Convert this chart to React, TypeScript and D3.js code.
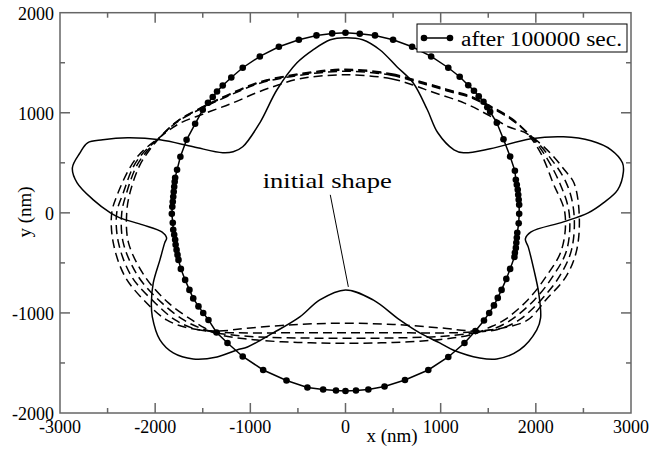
import React, { useEffect, useRef } from "react";
import * as d3 from "d3";

// axis ticks
const xTicks = [-3000, -2000, -1000, 0, 1000, 2000, 3000];
const yTicks = [-2000, -1000, 0, 1000, 2000];
const xMinor = [-2500, -1500, -500, 500, 1500, 2500];
const yMinor = [-1500, -500, 500, 1500];

const legendLabel = "after 100000 sec.";
const noteLabel = "initial shape";
// annotation: text anchor and pointer (data units)
const noteText: [number, number] = [-870, 250];
const notePointer: [number, number][] = [[-160, 180], [30, -740]];

// initial five-lobed shape (nm)
const initialShape: [number, number][] = [
  [0, 1750], [180, 1730], [360, 1630], [540, 1460], [710, 1300], [860, 1030],
  [970, 800], [1140, 630], [1240, 600], [1520, 640], [1950, 740], [2290, 760],
  [2580, 720], [2790, 630], [2910, 500], [2920, 410], [2860, 230], [2710, 100],
  [2550, 0], [2290, -90], [1950, -190], [1890, -260], [1920, -340], [1980, -570],
  [2030, -800], [2050, -1050], [2010, -1170], [1830, -1370], [1590, -1460],
  [1410, -1450], [1130, -1370], [990, -1300], [780, -1200], [570, -1070],
  [290, -870], [0, -770], [-270, -870], [-480, -1040], [-760, -1200],
  [-1030, -1340], [-1140, -1370], [-1350, -1440], [-1600, -1460], [-1810, -1400],
  [-1950, -1270], [-2030, -1040], [-2040, -900], [-2020, -700], [-1950, -470],
  [-1900, -300], [-1880, -250], [-1930, -190], [-2130, -120], [-2370, -50],
  [-2470, 0], [-2650, 130], [-2820, 300], [-2870, 450], [-2790, 600],
  [-2710, 700], [-2550, 730], [-2290, 750], [-1950, 730], [-1600, 660],
  [-1290, 600], [-1180, 610], [-1080, 660], [-900, 900], [-720, 1230],
  [-510, 1500], [-340, 1630], [-160, 1730],
];

// intermediate shapes (dashed)
const dashedA: [number, number][] = [
  [0, 1380], [480, 1340], [700, 1280], [920, 1205], [1250, 1097], [1495, 980],
  [1705, 863], [1910, 790], [2150, 600], [2300, 430], [2400, 300], [2455, 0],
  [2430, -370], [2315, -640], [2105, -870], [1915, -1070], [1650, -1150],
  [1350, -1180], [1000, -1150], [500, -1115], [0, -1103], [-500, -1115],
  [-1000, -1150], [-1350, -1180], [-1650, -1150], [-1880, -1070], [-2090, -900],
  [-2315, -640], [-2440, -300], [-2456, 0], [-2390, 200], [-2260, 460],
  [-2150, 600], [-1960, 750], [-1750, 890], [-1460, 1000], [-1180, 1100],
  [-935, 1200], [-700, 1280], [-480, 1340],
];
const dashedB: [number, number][] = [
  [0, 1415], [480, 1375], [850, 1280], [1100, 1210], [1320, 1150], [1530, 1050],
  [1740, 935], [1920, 795], [2110, 600], [2320, 300], [2400, 0], [2375, -370],
  [2245, -640], [2055, -870], [1825, -1070], [1600, -1165], [1350, -1190],
  [1000, -1200], [500, -1198], [0, -1197], [-500, -1198], [-1000, -1200],
  [-1350, -1190], [-1580, -1160], [-1790, -1070], [-2000, -900], [-2245, -640],
  [-2385, -300], [-2404, 0], [-2335, 200], [-2230, 460], [-2125, 600],
  [-1950, 755], [-1775, 905], [-1530, 1035], [-1250, 1160], [-900, 1295],
  [-480, 1375],
];
const dashedC: [number, number][] = [
  [0, 1425], [480, 1383], [850, 1288], [1100, 1218], [1320, 1157], [1530, 1057],
  [1740, 940], [1910, 800], [2080, 600], [2250, 300], [2350, 0], [2325, -370],
  [2175, -640], [1985, -870], [1740, -1070], [1550, -1160], [1350, -1200],
  [1000, -1235], [500, -1250], [0, -1253], [-500, -1250], [-1000, -1235],
  [-1350, -1200], [-1530, -1150], [-1700, -1070], [-1930, -900], [-2175, -640],
  [-2335, -300], [-2351, 0], [-2300, 200], [-2200, 460], [-2100, 600],
  [-1945, 760], [-1775, 910], [-1530, 1040], [-1250, 1167], [-900, 1302],
  [-480, 1383],
];
const dashedD: [number, number][] = [
  [0, 1435], [480, 1390], [850, 1295], [1100, 1225], [1320, 1164], [1530, 1064],
  [1745, 945], [1900, 805], [2050, 600], [2180, 300], [2305, 0], [2270, -370],
  [2105, -640], [1915, -870], [1670, -1070], [1500, -1150], [1350, -1210],
  [1000, -1265], [500, -1295], [0, -1303], [-500, -1295], [-1000, -1265],
  [-1350, -1210], [-1480, -1150], [-1615, -1070], [-1860, -900], [-2105, -640],
  [-2280, -300], [-2299, 0], [-2265, 200], [-2170, 460], [-2080, 600],
  [-1940, 765], [-1770, 915], [-1530, 1045], [-1250, 1174], [-900, 1309],
  [-480, 1390],
];

// shape after 100000 sec (mesh nodes)
const finalShape: [number, number][] = [
  [0, 1800], [150, 1790], [310, 1773], [500, 1730], [700, 1660], [900, 1563],
  [1080, 1450], [1200, 1360], [1290, 1275], [1350, 1220], [1400, 1165],
  [1450, 1110], [1490, 1055], [1520, 1010], [1590, 900], [1660, 735],
  [1730, 563], [1780, 420], [1790, 330], [1800, 280], [1810, 230], [1815, 180],
  [1820, 130], [1825, 80], [1825, -10], [1820, -105], [1805, -200], [1800, -250],
  [1795, -300], [1790, -350], [1780, -400], [1775, -440], [1730, -560],
  [1690, -660], [1640, -770], [1600, -850], [1560, -925], [1510, -1000],
  [1455, -1075], [1365, -1180], [1250, -1300], [1080, -1440], [870, -1570],
  [625, -1670], [410, -1735], [240, -1765], [110, -1775], [0, -1780],
  [-100, -1775], [-235, -1765], [-400, -1745], [-620, -1675], [-865, -1570],
  [-1080, -1435], [-1240, -1300], [-1355, -1195], [-1440, -1070],
  [-1495, -1000], [-1545, -935], [-1600, -855], [-1640, -770], [-1685, -670],
  [-1730, -560], [-1755, -470], [-1765, -420], [-1775, -370], [-1785, -320],
  [-1790, -270], [-1800, -220], [-1810, -170], [-1815, -100], [-1825, -10],
  [-1820, 60], [-1815, 110], [-1810, 160], [-1805, 210], [-1800, 260],
  [-1795, 310], [-1790, 350], [-1770, 430], [-1735, 560], [-1670, 730],
  [-1580, 890], [-1500, 1030], [-1445, 1100], [-1395, 1157], [-1350, 1213],
  [-1290, 1273], [-1200, 1353], [-1080, 1450], [-900, 1563], [-700, 1660],
  [-490, 1730], [-305, 1773], [-140, 1793],
];

export default function App() {
  const ref = useRef<SVGSVGElement>(null);
  const W = 667;
  const H = 449;
  const plot = { left: 60, right: 631, top: 12.7, bottom: 413 };
  const font = "'Liberation Serif', Tinos, 'Nimbus Roman', 'Times New Roman', Times, serif";

  useEffect(() => {
    const svg = d3.select(ref.current);
    svg.selectAll("*").remove();

    const x = d3.scaleLinear().domain([-3000, 3000]).range([plot.left, plot.right]);
    const y = d3.scaleLinear().domain([-2000, 2000]).range([plot.bottom, plot.top]);

    const axisColor = "#666";

    // ticks on all four sides, pointing inward
    const tickG = svg.append("g").attr("stroke", axisColor).attr("stroke-width", 1.5);
    const addX = (vals: number[], len: number) => {
      vals.forEach((v) => {
        tickG.append("line").attr("x1", x(v)).attr("x2", x(v))
          .attr("y1", plot.bottom).attr("y2", plot.bottom - len);
        tickG.append("line").attr("x1", x(v)).attr("x2", x(v))
          .attr("y1", plot.top).attr("y2", plot.top + len);
      });
    };
    const addY = (vals: number[], len: number) => {
      vals.forEach((v) => {
        tickG.append("line").attr("y1", y(v)).attr("y2", y(v))
          .attr("x1", plot.left).attr("x2", plot.left + len);
        tickG.append("line").attr("y1", y(v)).attr("y2", y(v))
          .attr("x1", plot.right).attr("x2", plot.right - len);
      });
    };
    addX(xTicks.slice(1, -1), 10);
    addX(xMinor, 5);
    addY(yTicks.slice(1, -1), 10);
    addY(yMinor, 5);

    svg.append("rect")
      .attr("x", plot.left).attr("y", plot.top)
      .attr("width", plot.right - plot.left).attr("height", plot.bottom - plot.top)
      .attr("fill", "none").attr("stroke", axisColor).attr("stroke-width", 1.5);

    // tick labels
    svg.append("g").selectAll("text").data(xTicks).enter().append("text")
      .attr("x", (d) => x(d)).attr("y", 433)
      .attr("text-anchor", "middle")
      .style("font-family", font).style("font-size", "18px")
      .text((d) => String(d));
    svg.append("g").selectAll("text").data(yTicks).enter().append("text")
      .attr("x", 54).attr("y", (d) => y(d) + 7)
      .attr("text-anchor", "end")
      .style("font-family", font).style("font-size", "18px")
      .text((d) => String(d));

    // axis titles
    svg.append("text").attr("x", 392).attr("y", 442)
      .attr("text-anchor", "middle")
      .style("font-family", font).style("font-size", "19px")
      .text("x (nm)");
    svg.append("text")
      .attr("transform", "translate(31,212)rotate(-90)")
      .attr("text-anchor", "middle")
      .style("font-family", font).style("font-size", "19px")
      .text("y (nm)");

    const closed = d3.line<[number, number]>()
      .x((d) => x(d[0])).y((d) => y(d[1]))
      .curve(d3.curveCatmullRomClosed.alpha(0.5));

    // dashed intermediate shapes
    [dashedA, dashedB, dashedC, dashedD].forEach((pts) => {
      svg.append("path").attr("d", closed(pts) as string)
        .attr("fill", "none").attr("stroke", "#000")
        .attr("stroke-width", 1.5).attr("stroke-dasharray", "9,5");
    });

    // initial shape
    svg.append("path").attr("d", closed(initialShape) as string)
      .attr("fill", "none").attr("stroke", "#000").attr("stroke-width", 1.5);

    // final shape with nodes
    const linear = d3.line<[number, number]>()
      .x((d) => x(d[0])).y((d) => y(d[1]))
      .curve(d3.curveLinearClosed);
    svg.append("path").attr("d", linear(finalShape) as string)
      .attr("fill", "none").attr("stroke", "#000").attr("stroke-width", 1.5);
    svg.append("g").selectAll("circle").data(finalShape).enter().append("circle")
      .attr("cx", (d) => x(d[0])).attr("cy", (d) => y(d[1]))
      .attr("r", 3.3).attr("fill", "#000");

    // annotation
    svg.append("line")
      .attr("x1", x(notePointer[0][0])).attr("y1", y(notePointer[0][1]))
      .attr("x2", x(notePointer[1][0])).attr("y2", y(notePointer[1][1]))
      .attr("stroke", "#000").attr("stroke-width", 1);
    svg.append("text")
      .attr("x", x(noteText[0])).attr("y", y(noteText[1]))
      .attr("textLength", 129).attr("lengthAdjust", "spacingAndGlyphs")
      .style("font-family", font).style("font-size", "21px")
      .text(noteLabel);

    // legend
    const lg = svg.append("g");
    lg.append("rect").attr("x", 417).attr("y", 24).attr("width", 210).attr("height", 28)
      .attr("fill", "#fff").attr("stroke", "#000").attr("stroke-width", 1);
    lg.append("line").attr("x1", 424).attr("x2", 450).attr("y1", 38).attr("y2", 38)
      .attr("stroke", "#000").attr("stroke-width", 1.5);
    [424, 450].forEach((cx) => {
      lg.append("circle").attr("cx", cx).attr("cy", 38).attr("r", 3.3).attr("fill", "#000");
    });
    lg.append("text").attr("x", 461).attr("y", 46)
      .attr("textLength", 161).attr("lengthAdjust", "spacingAndGlyphs")
      .style("font-family", font).style("font-size", "20px")
      .text(legendLabel);
  }, []);

  return (
    <svg
      ref={ref}
      width={W}
      height={H}
      style={{ position: "absolute", left: 0, top: 0, background: "#fff" }}
    />
  );
}
